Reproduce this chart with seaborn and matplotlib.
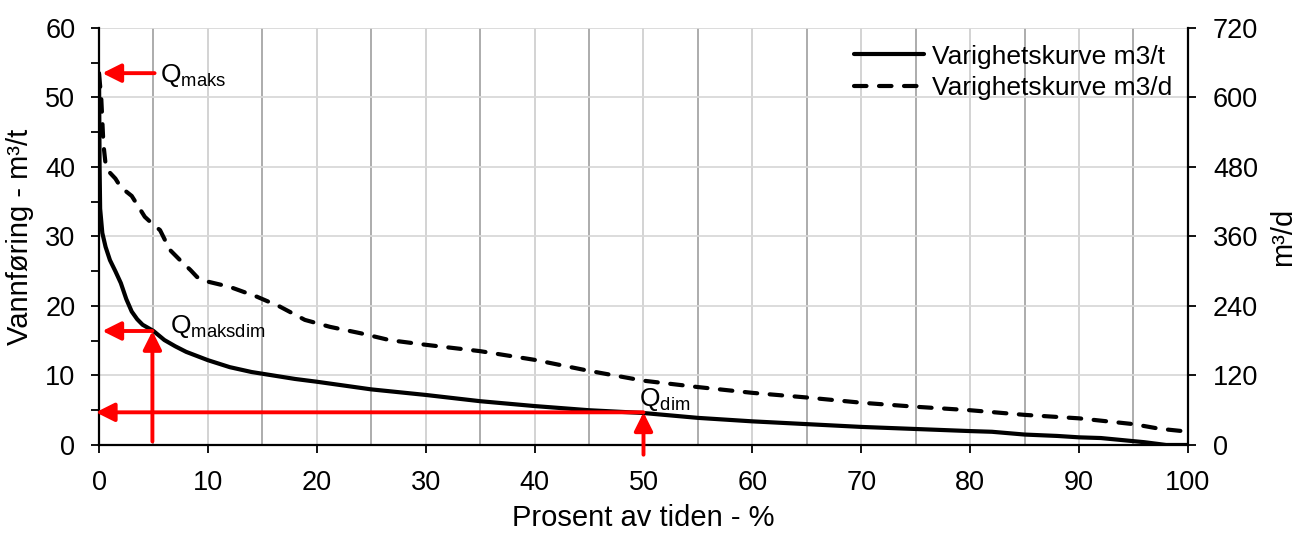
import numpy as np
import pandas as pd
import matplotlib
matplotlib.use("Agg")
import matplotlib.pyplot as plt
import seaborn as sns

# duration curve, m3/t (left axis)
pct_t = [0, 0.05, 0.1, 0.3, 0.6, 1, 1.5, 2, 2.5, 3, 3.5, 4, 5, 6, 7, 8, 9, 10,
         12, 14, 16, 18, 20, 25, 30, 35, 40, 45, 50, 55, 60, 65, 70, 75, 80,
         82, 85, 88, 90, 92, 94, 96, 97, 98, 100]
q_t = [53.5, 40, 34, 30.5, 28.5, 26.6, 25, 23.3, 21.0, 19.2, 18.1, 17.3, 16.4,
       15.1, 14.2, 13.4, 12.8, 12.2, 11.2, 10.5, 10.0, 9.5, 9.1, 8.0, 7.2, 6.3,
       5.6, 5.0, 4.6, 3.9, 3.4, 3.0, 2.6, 2.3, 2.0, 1.9, 1.5, 1.3, 1.1, 1.0,
       0.7, 0.4, 0.2, 0.0, 0.0]

# duration curve, m3/d (right axis)
pct_d = [0, 0.2, 0.4, 0.6, 1, 1.5, 2, 3, 3.5, 4.2, 5, 5.6, 6.5, 7.5, 8.4, 9,
         10, 12, 14.5, 16.6, 18.9, 21.2, 24, 26.7, 30, 35, 40, 45, 50, 55, 60,
         65, 70, 75, 80, 85, 90, 95, 97.4, 100]
q_d = [640, 600, 520, 485, 470, 460, 445, 430, 415, 394, 380, 371, 337, 318,
       302, 290, 282, 273, 256, 239, 216, 204, 193, 181, 173, 162, 147, 128,
       111, 100, 90, 82, 73, 66, 60, 52, 46, 36, 28, 23]

# marked points
q_maks = 53.5
p_maksdim, q_maksdim = 4.9, 16.4
p_dim, q_dim = 50, 4.7

df_t = pd.DataFrame({"pct": pct_t, "q": q_t})
df_d = pd.DataFrame({"pct": pct_d, "q": q_d})

sns.set_style("white")
plt.rcParams["font.family"] = ["Liberation Sans", "DejaVu Sans"]
plt.rcParams["mathtext.fontset"] = "custom"
plt.rcParams["mathtext.rm"] = "Liberation Sans"
plt.rcParams["mathtext.it"] = "Liberation Sans:italic"
for k in ("text.color", "axes.labelcolor", "xtick.color", "ytick.color"):
    plt.rcParams[k] = "black"
fs_tick = 19.5
fs_lab = 21
fs_leg = 19

fig = plt.figure(figsize=(13.05, 5.34), dpi=100)
ax = fig.add_axes([0.0759, 0.1667, 0.8344, 0.7809])
ax2 = ax.twinx()

sns.lineplot(data=df_t, x="pct", y="q", ax=ax, color="black", lw=3.0,
             label="Varighetskurve m3/t", legend=False)
sns.lineplot(data=df_d, x="pct", y="q", ax=ax2, color="black", lw=3.0,
             label="Varighetskurve m3/d", legend=False)
ax2.lines[0].set_linestyle((0, (3.0, 3.0)))
ax2.lines[0].set_dash_capstyle("round")

ax.set_xlim(0, 100)
ax.set_ylim(0, 60)
ax2.set_ylim(0, 720)
ax.set_xticks(np.arange(0, 101, 10))
ax.set_xticks(np.arange(5, 100, 10), minor=True)
ax.set_yticks(np.arange(0, 61, 10))
ax.set_yticks(np.arange(5, 60, 10), minor=True)
ax2.set_yticks(np.arange(0, 721, 120))

ax.grid(axis="y", which="major", color="#d9d9d9", lw=1.3)
ax.grid(axis="x", which="major", color="#d0d0d0", lw=1.3)
ax.grid(axis="x", which="minor", color="#a6a6a6", lw=1.3)
ax2.grid(False)

for a in (ax, ax2):
    a.tick_params(axis="both", which="major", direction="out", length=6,
                  width=1.3, color="black", labelsize=fs_tick)
    for s in a.spines.values():
        s.set_visible(False)
ax.tick_params(axis="x", which="minor", length=0)
ax.tick_params(axis="y", which="minor", left=True, direction="out", length=6,
               width=1.3, color="black")
ax.tick_params(axis="x", which="major", bottom=True, pad=12)
ax.tick_params(axis="y", which="major", left=True, pad=11)
ax2.tick_params(axis="y", which="major", right=True, pad=12)
ax.spines["left"].set_visible(True)
ax.spines["bottom"].set_visible(True)
ax2.spines["right"].set_visible(True)
for s in (ax.spines["left"], ax.spines["bottom"], ax2.spines["right"]):
    s.set_color("black")
    s.set_linewidth(1.6)

ax.set_xlabel("Prosent av tiden - %", fontsize=fs_lab, labelpad=6)
ax.set_ylabel("Vannføring - m³/t", fontsize=fs_lab, labelpad=8)
ax2.set_ylabel("m³/d", fontsize=fs_lab, rotation=90, labelpad=8)

# red arrows
arr = dict(arrowstyle="-|>", color="red", lw=2.8, mutation_scale=28,
           shrinkA=0, shrinkB=0)
ax.annotate("", xy=(0.3, q_maks), xytext=(5.1, q_maks), arrowprops=arr,
            annotation_clip=False)
ax.text(5.6, q_maks - 0.3, r"$\mathrm{Q_{maks}}$", fontsize=fs_leg,
        va="center", ha="left")

ax.annotate("", xy=(0.3, q_maksdim), xytext=(p_maksdim, q_maksdim),
            arrowprops=arr, annotation_clip=False)
ax.annotate("", xy=(p_maksdim, q_maksdim), xytext=(p_maksdim, 0.5),
            arrowprops=arr, annotation_clip=False)
ax.text(6.5, q_maksdim + 0.6, r"$\mathrm{Q_{maksdim}}$", fontsize=fs_leg,
        va="center", ha="left")

ax.annotate("", xy=(-0.3, q_dim), xytext=(p_dim, q_dim), arrowprops=arr,
            annotation_clip=False)
ax.annotate("", xy=(p_dim, q_dim), xytext=(p_dim, -1.4), arrowprops=arr,
            annotation_clip=False)
ax.text(p_dim - 0.4, q_dim + 1.9, r"$\mathrm{Q_{dim}}$", fontsize=fs_leg,
        va="center", ha="left")

handles = ax.get_lines()[:1] + ax2.get_lines()[:1]
leg = ax2.legend(handles, [h.get_label() for h in handles], loc="upper right",
                 frameon=False, fontsize=fs_leg, handlelength=2.65,
                 handletextpad=0.3, labelspacing=0.27,
                 bbox_to_anchor=(1.0075, 1.017))

fig.savefig("out.png", dpi=100)
